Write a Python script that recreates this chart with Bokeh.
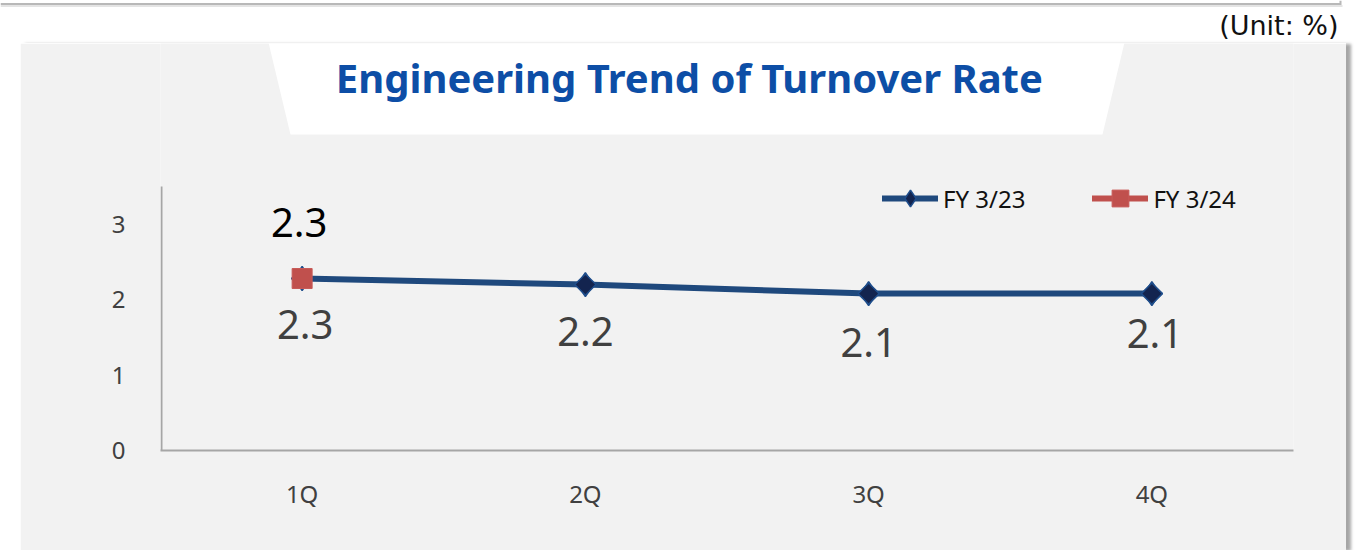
import math
from bokeh.plotting import figure
from bokeh.layouts import column
from bokeh.models import (ColumnDataSource, FactorRange, Range1d, FixedTicker, Legend,
                          LegendItem)
from bokeh.core.properties import value
from bokeh.embed import file_html
from bokeh.resources import INLINE

# ---------------- data ----------------
quarters = ["1Q", "2Q", "3Q", "4Q"]
fy23_values = [2.28, 2.20, 2.08, 2.08]
fy24_quarters = ["1Q"]
fy24_values = [2.28]
y_ticks = [0, 1, 2, 3]
series_names = ["FY 3/23", "FY 3/24"]
title_text = "Engineering  Trend of Turnover Rate"
unit_text = "(Unit: %)"

# label placement offsets (screen px, style only)
fy23_label_dx = [3, 0, 0, 3]
fy23_label_dy = [46, 47, 49, 40]
fy24_label_dx = [-3]
fy24_label_dy = [-56]

# ---------------- page geometry (page px) ----------------
PAGE_W, PAGE_H = 1363, 550
PANEL_L, PANEL_R, PANEL_T = 20, 1346, 43
FL, FR, FT_AXIS, FB = 160, 1293, 186, 450
Y_AXIS_TOP = 3.5
y_per_px = Y_AXIS_TOP / (FB - FT_AXIS)
y_frame_top = (FB - PANEL_T) * y_per_px


def sx(px):
    """page px -> synthetic categorical coordinate of the main plot"""
    return (px - FL) / (FR - FL) * len(quarters)


# ---------------- top strip (unit) ----------------
top = figure(width=PAGE_W, height=PANEL_T, x_range=Range1d(0, PAGE_W),
             y_range=Range1d(PANEL_T, 0), output_backend="svg", toolbar_location=None,
             x_axis_location=None, y_axis_location=None,
             min_border=0, min_border_left=0, min_border_right=0,
             min_border_top=0, min_border_bottom=0, frame_align=False)
top.outline_line_color = None
top.background_fill_color = "white"
top.border_fill_color = "white"
top.xgrid.visible = False
top.ygrid.visible = False
top.segment(x0=[0, 0], y0=[3.5, 5.5], x1=[1340, 1342], y1=[3.5, 5.5],
            line_color=["#b8b8b8", "#e4e4e4"], line_width=2)
top.segment(x0=[1340], y0=[0], x1=[1340], y1=[4.5], line_color="#b8b8b8", line_width=2)
top.text(x=[1338], y=[25], text=[unit_text], text_align="right", text_baseline="middle",
         text_font=value("DejaVu Sans"), text_font_size="27px", text_color="#111111")

# ---------------- main panel ----------------
MW = PANEL_R - PANEL_L
MH = PAGE_H - PANEL_T
p = figure(width=MW, height=MH,
           x_range=FactorRange(factors=quarters, range_padding=0),
           y_range=Range1d(0, y_frame_top),
           output_backend="svg", toolbar_location=None,
           min_border=0,
           min_border_left=FL - PANEL_L, min_border_right=PANEL_R - FR,
           min_border_top=0, min_border_bottom=PAGE_H - FB,
           frame_align=False,
           margin=(0, 0, 0, PANEL_L),
           styles={"box-shadow": "5px 1px 3px rgba(0,0,0,0.35)"})
p.background_fill_color = "#f2f2f2"
p.border_fill_color = "#f2f2f2"
p.outline_line_color = None
p.xgrid.visible = False
p.ygrid.visible = False

# pixel-like helper y range for decorations inside the frame
p.extra_y_ranges = {"py": Range1d(FB, PANEL_T)}

# white title banner (trapezoid)
p.patch(x=[sx(268), sx(1124), sx(1102), sx(290)],
        y=[PANEL_T - 1, PANEL_T - 1, 134, 134],
        fill_color="white", line_color=None, y_range_name="py")
p.text(x=[sx(694)], y=[77], text=[title_text], text_align="center",
       text_baseline="alphabetic", text_font=value("Noto Sans"), text_font_style="bold",
       text_font_size="40px", text_color="#0d4ea6", y_range_name="py")

# visible part of the value axis line
p.segment(x0=[sx(FL + 1)], y0=[FB], x1=[sx(FL + 1)], y1=[FT_AXIS], line_color="#a6a6a6",
          line_width=2, y_range_name="py")

# ---------------- data glyphs ----------------
src23 = ColumnDataSource(dict(q=quarters, v=fy23_values,
                              lbl=[f"{v:.1f}" for v in fy23_values],
                              dx=fy23_label_dx, dy=fy23_label_dy))
src24 = ColumnDataSource(dict(q=fy24_quarters, v=fy24_values,
                              lbl=[f"{v:.1f}" for v in fy24_values],
                              dx=fy24_label_dx, dy=fy24_label_dy))

line23 = p.line(x="q", y="v", source=src23, line_color="#1f497d", line_width=6,
                line_cap="round")
mk23 = p.scatter(x="q", y="v", source=src23, marker="diamond", size=24,
                 fill_color="#13244f", line_color="#1f4e8c", line_width=1.5)
p.scatter(x="q", y="v", source=src23, marker="square", angle=math.pi / 4, size=15,
          fill_color="#13244f", line_color="#1f4e8c", line_width=1.5)

line24 = p.line(x="q", y="v", source=src24, line_color="#c0504d", line_width=6,
                line_cap="round")
mk24 = p.scatter(x="q", y="v", source=src24, marker="square", size=20,
                 fill_color="#c0504d", line_color="#c85a57", line_width=1)

p.text(x="q", y="v", text="lbl", x_offset="dx", y_offset="dy", source=src23,
       text_align="center", text_baseline="middle", text_font=value("Noto Sans"),
       text_font_size="40px", text_color="#404040")
p.text(x="q", y="v", text="lbl", x_offset="dx", y_offset="dy", source=src24,
       text_align="center", text_baseline="middle", text_font=value("Noto Sans"),
       text_font_size="40px", text_color="#000000")

# ---------------- legend ----------------
legend = Legend(items=[LegendItem(label=series_names[0], renderers=[line23, mk23]),
                       LegendItem(label=series_names[1], renderers=[line24, mk24])],
                orientation="horizontal", location=(882 - FL, FB - 198 - 21),
                background_fill_alpha=0, border_line_color=None, padding=0, margin=0,
                glyph_width=56, glyph_height=42, label_height=42, label_standoff=5,
                spacing=67, label_text_font="Noto Sans", label_text_font_size="24px",
                label_text_color="#111111", label_text_baseline="middle")
p.add_layout(legend)

# ---------------- axes ----------------
for ax in (p.xaxis[0], p.yaxis[0]):
    ax.axis_line_color = "#a6a6a6"
    ax.axis_line_width = 2
    ax.major_tick_line_color = None
    ax.minor_tick_line_color = None
    ax.major_tick_out = 0
    ax.major_tick_in = 0
    ax.major_label_text_font = "Noto Sans"
    ax.major_label_text_font_size = "24px"
    ax.major_label_text_color = "#404040"
p.yaxis[0].axis_line_color = None
p.yaxis[0].ticker = FixedTicker(ticks=y_ticks)
p.yaxis[0].major_label_standoff = 35
p.xaxis[0].major_label_standoff = 26

layout = column(top, p, spacing=0)
open("out.html", "w").write(file_html(layout, INLINE))
